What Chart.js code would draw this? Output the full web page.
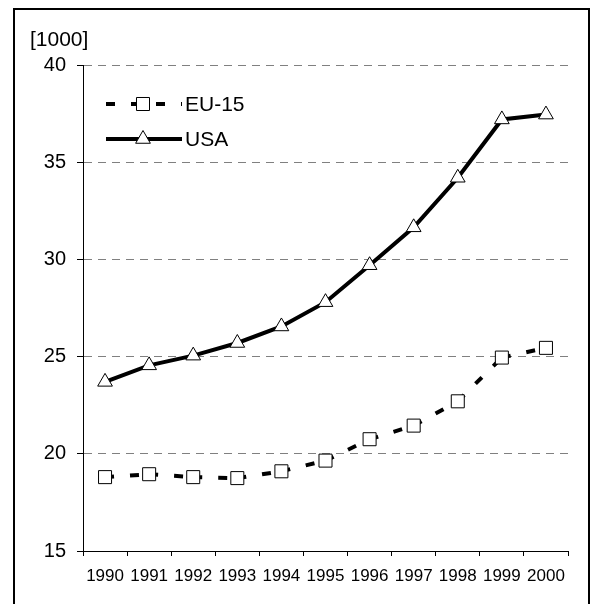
<!DOCTYPE html>
<html>
<head>
<meta charset="utf-8">
<script src="https://cdn.jsdelivr.net/npm/chart.js@4.4.1/dist/chart.umd.min.js"></script>
<style>
  body { margin: 0; background: #fff; }
  #frame { position: absolute; left: 13px; top: 8px; width: 573px; height: 600px; border: 2px solid #000; }
  #frame canvas { display: block; }
</style>
</head>
<body>
<div id="frame"><canvas id="chart" width="573" height="594"></canvas></div>
<script>
var years = ["1990", "1991", "1992", "1993", "1994", "1995", "1996", "1997", "1998", "1999", "2000"];
var eu15 = [18.8, 18.95, 18.8, 18.75, 19.1, 19.65, 20.75, 21.45, 22.7, 24.95, 25.45];
var usa = [23.7, 24.55, 25.05, 25.7, 26.55, 27.8, 29.7, 31.65, 34.2, 37.2, 37.45];
var seriesNames = ["EU-15", "USA"];
var unitLabel = "[1000]";

Chart.defaults.font.family = '"Liberation Sans", Arial, sans-serif';
Chart.defaults.color = '#000';

// legend drawn inside the plot: line sample + marker + name
var lineLegend = {
    id: 'lineLegend',
    afterDatasetsDraw: function(chart) {
        var ctx = chart.ctx;
        var rows = [94, 129];
        chart.data.datasets.forEach(function(ds, i) {
            var y = rows[i];
            ctx.save();
            ctx.strokeStyle = ds.borderColor;
            ctx.lineWidth = ds.borderWidth;
            ctx.setLineDash(ds.borderDash || []);
            ctx.beginPath();
            ctx.moveTo(91, y);
            ctx.lineTo(167, y);
            ctx.stroke();
            ctx.setLineDash([]);
            ctx.fillStyle = ds.pointBackgroundColor;
            ctx.strokeStyle = ds.pointBorderColor;
            ctx.lineWidth = ds.pointBorderWidth;
            Chart.helpers.drawPoint(ctx, {pointStyle: ds.pointStyle, radius: ds.pointRadius, borderWidth: ds.pointBorderWidth, rotation: 0}, 128, y);
            ctx.fillStyle = '#000';
            ctx.font = '21px "Liberation Sans", Arial, sans-serif';
            ctx.textBaseline = 'middle';
            ctx.fillText(ds.label, 170, y + 1);
            ctx.restore();
        });
    }
};

var ctx = document.getElementById("chart");

var chart = new Chart(ctx, {
    type: 'line',
    data: {
        labels: years,
        datasets: [{
            label: seriesNames[0],
            data: eu15,
            borderColor: '#000',
            borderWidth: 4,
            borderDash: [9, 16],
            // alternate offset by one full period so every segment is stroked on its own
            segment: {
                borderDashOffset: function(c) { return c.p0DataIndex % 2 ? 25 : 0; }
            },
            pointStyle: 'rect',
            pointRadius: 9.2,
            pointBackgroundColor: '#fff',
            pointBorderColor: '#000',
            pointBorderWidth: 1,
            tension: 0
        }, {
            label: seriesNames[1],
            data: usa,
            borderColor: '#000',
            borderWidth: 4,
            pointStyle: 'triangle',
            pointRadius: 8.5,
            pointBackgroundColor: '#fff',
            pointBorderColor: '#000',
            pointBorderWidth: 1,
            tension: 0
        }]
    },
    options: {
        responsive: false,
        animation: false,
        events: [],
        layout: {
            padding: {left: 15, top: 10, right: 20, bottom: 0}
        },
        plugins: {
            legend: {display: false},
            tooltip: {enabled: false},
            title: {
                display: true,
                text: unitLabel,
                align: 'start',
                color: '#000',
                font: {size: 21, weight: 'normal'},
                padding: {top: 8, bottom: 11.8}
            }
        },
        scales: {
            x: {
                offset: true,
                grid: {
                    offset: true,
                    drawOnChartArea: false,
                    tickLength: 5,
                    tickColor: '#000'
                },
                border: {color: '#000', width: 1},
                ticks: {
                    font: {size: 17},
                    color: '#000',
                    padding: 10,
                    maxRotation: 0,
                    autoSkip: false
                },
                afterFit: function(scale) { scale.height = 53; }
            },
            y: {
                min: 15,
                max: 40,
                grid: {
                    color: '#808080',
                    lineWidth: 1,
                    tickLength: 6,
                    tickColor: '#000',
                    tickBorderDash: []
                },
                border: {color: '#000', width: 1, dash: [8, 6]},
                ticks: {
                    stepSize: 5,
                    font: {size: 20},
                    color: '#000',
                    padding: 11
                },
                afterFit: function(scale) { scale.width = 53; }
            }
        }
    },
    plugins: [lineLegend]
});
</script>
</body>
</html>
